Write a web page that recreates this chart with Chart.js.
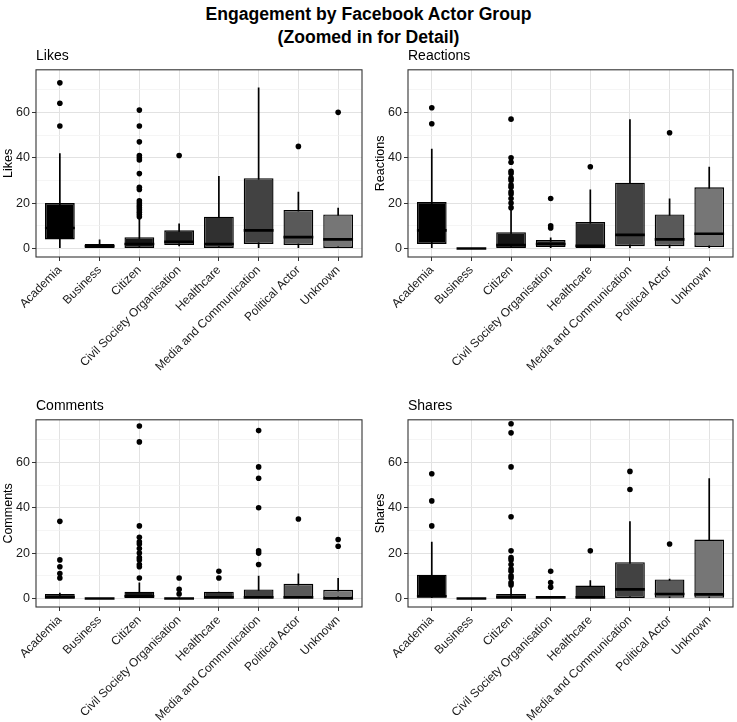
<!DOCTYPE html>
<html>
<head>
<meta charset="utf-8">
<script src="https://cdn.jsdelivr.net/npm/chart.js@4.4.1/dist/chart.umd.min.js"></script>
<style>
  body { margin: 0; background: #fff; width: 737px; height: 722px; position: relative; overflow: hidden;
         font-family: "Liberation Sans", Arial, sans-serif; }
  #title { position: absolute; left: 0; top: 3px; width: 737px; text-align: center; font-weight: bold;
           font-size: 17.6px; line-height: 23px; color: #000; }
  canvas { position: absolute; }
</style>
</head>
<body>
<div id="title">Engagement by Facebook Actor Group<br>(Zoomed in for Detail)</div>
<canvas id="likes" width="366" height="340" style="left:0;top:45px"></canvas>
<canvas id="reactions" width="365" height="340" style="left:372px;top:45px"></canvas>
<canvas id="comments" width="366" height="340" style="left:0;top:395px"></canvas>
<canvas id="shares" width="365" height="340" style="left:372px;top:395px"></canvas>
<script>
// boxplots per actor group, zoomed view (y from 0 to 75)

const categories = [
    'Academia',
    'Business',
    'Citizen',
    'Civil Society Organisation',
    'Healthcare',
    'Media and Communication',
    'Political Actor',
    'Unknown',
];

const yTicks = [0, 20, 40, 60];
const yMinorTicks = [10, 30, 50, 70];

// Likes
const likesLow    = [0, 0, 0, 1, 0, 0, 0, 0];
const likesQ1     = [4, 0, 0, 1.5, 0, 2, 1.5, 0];
const likesMedian = [9, 1, 2, 3, 2, 8, 5, 4];
const likesQ3     = [20, 2, 5, 8, 14, 31, 17, 15];
const likesHigh   = [42, 4, 13, 11, 32, 71, 25, 18];
const likesOutliers = [
    [54, 64, 73],
    [],
    [14, 15, 16, 17, 18, 19, 20, 21, 26, 27, 33, 39, 40, 41, 47, 54, 61],
    [41],
    [],
    [],
    [45],
    [60],
];

// Reactions
const reactionsLow    = [0, 0, 0, 0, 0, 0, 0, 0];
const reactionsQ1     = [2, 0, 0, 0.7, 0, 1, 1, 0.7];
const reactionsMedian = [8, 0, 1.5, 2, 1.2, 6, 4, 6.5];
const reactionsQ3     = [20.5, 0, 7.2, 3.7, 11.7, 29, 15, 27];
const reactionsHigh   = [44, 0, 17, 4.8, 26, 57, 22, 36];
const reactionsOutliers = [
    [55, 62],
    [],
    [18, 20, 22, 24, 25, 27, 28, 30, 31, 33, 34, 38, 40, 57],
    [9, 10, 22],
    [36],
    [],
    [51],
    [],
];

// Comments
const commentsLow    = [0, 0, 0, 0, 0, 0, 0, 0];
const commentsQ1     = [0, 0, 0, 0, 0, 0, 0, 0];
const commentsMedian = [0.5, 0, 1, 0, 0.5, 0.5, 0.5, 0];
const commentsQ3     = [2, 0, 3, 0.3, 3, 4, 6.5, 3.8];
const commentsHigh   = [2.5, 0, 7, 0.5, 3, 10, 11, 9];
const commentsOutliers = [
    [9, 11, 14, 17, 34],
    [],
    [9, 14, 15, 17, 18, 20, 22, 24, 25, 27, 32, 69, 76],
    [2, 4, 9],
    [9, 12],
    [15, 20, 21, 40, 53, 58, 74],
    [35],
    [23, 26],
];

// Shares
const sharesLow    = [0, 0, 0, 0, 0, 0, 0, 0];
const sharesQ1     = [0.3, 0, 0, 0, 0, 0, 0.3, 0.3];
const sharesMedian = [1, 0, 0.5, 0.5, 0.5, 4, 2, 1.8];
const sharesQ3     = [10.5, 0, 2, 1, 5.7, 16, 8.4, 26];
const sharesHigh   = [25, 0, 5, 1, 8, 34, 8.7, 53];
const sharesOutliers = [
    [32, 43, 55],
    [],
    [6, 7, 9, 10, 12, 13, 15, 17, 18, 21, 36, 58, 73, 77],
    [5, 7, 12],
    [21],
    [48, 56],
    [24],
    [],
];

const boxFills = ['#000000', '#0b0b0b', '#151515', '#222222', '#303030', '#424242', '#595959', '#767676'];

Chart.defaults.font.family = '"Liberation Sans", Arial, sans-serif';
Chart.defaults.color = '#1a1a1a';

// ggplot style panel border
const panelBorder = {
    id: 'panelBorder',
    afterDatasetsDraw(chart) {
        const {ctx, chartArea} = chart;
        ctx.save();
        ctx.strokeStyle = '#333';
        ctx.lineWidth = 1.1;
        ctx.strokeRect(chartArea.left, chartArea.top, chartArea.right - chartArea.left, chartArea.bottom - chartArea.top);
        ctx.restore();
    }
};

function makePanel(id, name, low, q1, median, q3, high, outliers) {
    const whiskers = categories.map((c, i) => ({x: i + 1, y: [low[i], high[i]]}));
    const boxes = categories.map((c, i) => ({x: i + 1, y: [q1[i], q3[i]]}));
    const medians = categories.map((c, i) => ({x: i + 1, y: median[i]}));
    const points = [];
    outliers.forEach((vals, i) => vals.forEach(v => points.push({x: i + 1, y: v})));

    const config = {
        type: 'bar',
        data: {
            datasets: [
                {
                    type: 'bar',
                    data: whiskers,
                    backgroundColor: '#000',
                    grouped: false,
                    maxBarThickness: 1.7,
                    order: 3,
                },
                {
                    type: 'bar',
                    data: boxes,
                    backgroundColor: boxFills,
                    borderColor: '#000',
                    borderWidth: 1.4,
                    borderSkipped: false,
                    grouped: false,
                    categoryPercentage: 1,
                    barPercentage: 0.75,
                    order: 2,
                },
                {
                    type: 'scatter',
                    data: medians,
                    pointStyle: 'line',
                    pointRadius: (ctx) => {
                        const x = ctx.chart.scales.x;
                        return Math.abs(x.getPixelForValue(0.375) - x.getPixelForValue(0));
                    },
                    pointBorderColor: '#000',
                    pointBorderWidth: 2.6,
                    order: 1,
                },
                {
                    type: 'scatter',
                    data: points,
                    pointRadius: 2.8,
                    pointBackgroundColor: '#000',
                    pointBorderWidth: 0,
                    order: 0,
                },
            ]
        },
        options: {
            responsive: false,
            animation: false,
            events: [],
            devicePixelRatio: 1,
            layout: { padding: { right: 4 } },
            plugins: {
                legend: { display: false },
                tooltip: { enabled: false },
                title: {
                    display: true,
                    text: name,
                    align: 'start',
                    fullSize: false,
                    color: '#000',
                    font: { size: 14, weight: 'normal' },
                    padding: { top: 3, bottom: 5 },
                },
            },
            scales: {
                x: {
                    type: 'linear',
                    min: 0.4,
                    max: 8.6,
                    offset: false,
                    afterBuildTicks: (scale) => {
                        scale.ticks = categories.map((c, i) => ({value: i + 1}));
                    },
                    afterFit: (scale) => {
                        scale.height = 128;
                        scale.paddingLeft = 0;
                        scale.paddingRight = 0;
                    },
                    ticks: {
                        autoSkip: false,
                        minRotation: 45,
                        maxRotation: 45,
                        padding: 2,
                        color: '#1a1a1a',
                        font: { size: 12 },
                        callback: (v) => categories[Math.round(v) - 1],
                    },
                    grid: {
                        offset: false,
                        color: '#e2e2e2',
                        lineWidth: 1,
                        tickLength: 4,
                        tickColor: '#333',
                    },
                    border: { display: false },
                },
                y: {
                    min: -3.75,
                    max: 78.75,
                    afterBuildTicks: (scale) => {
                        scale.ticks = yTicks.concat(yMinorTicks).sort((a, b) => a - b).map(v => ({value: v}));
                    },
                    afterFit: (scale) => {
                        scale.width = 36;
                        scale.paddingTop = 0;
                        scale.paddingBottom = 0;
                    },
                    ticks: {
                        padding: 2,
                        color: '#1a1a1a',
                        font: { size: 12.5 },
                        callback: (v) => yTicks.includes(v) ? String(v) : '',
                    },
                    grid: {
                        color: (ctx) => yTicks.includes(ctx.tick.value) ? '#e2e2e2' : '#f1f1f1',
                        lineWidth: (ctx) => yTicks.includes(ctx.tick.value) ? 1 : 0.7,
                        tickLength: 4,
                        tickColor: (ctx) => yTicks.includes(ctx.tick.value) ? '#333' : 'rgba(0,0,0,0)',
                    },
                    border: { display: false },
                    title: {
                        display: true,
                        text: name,
                        color: '#000',
                        font: { size: 12.5 },
                        padding: { top: 1, bottom: 0 },
                    },
                },
            },
        },
        plugins: [panelBorder],
    };

    return new Chart(document.getElementById(id), config);
}

const likesChart = makePanel('likes', 'Likes', likesLow, likesQ1, likesMedian, likesQ3, likesHigh, likesOutliers);
const reactionsChart = makePanel('reactions', 'Reactions', reactionsLow, reactionsQ1, reactionsMedian, reactionsQ3, reactionsHigh, reactionsOutliers);
const commentsChart = makePanel('comments', 'Comments', commentsLow, commentsQ1, commentsMedian, commentsQ3, commentsHigh, commentsOutliers);
const sharesChart = makePanel('shares', 'Shares', sharesLow, sharesQ1, sharesMedian, sharesQ3, sharesHigh, sharesOutliers);
</script>
</body>
</html>
